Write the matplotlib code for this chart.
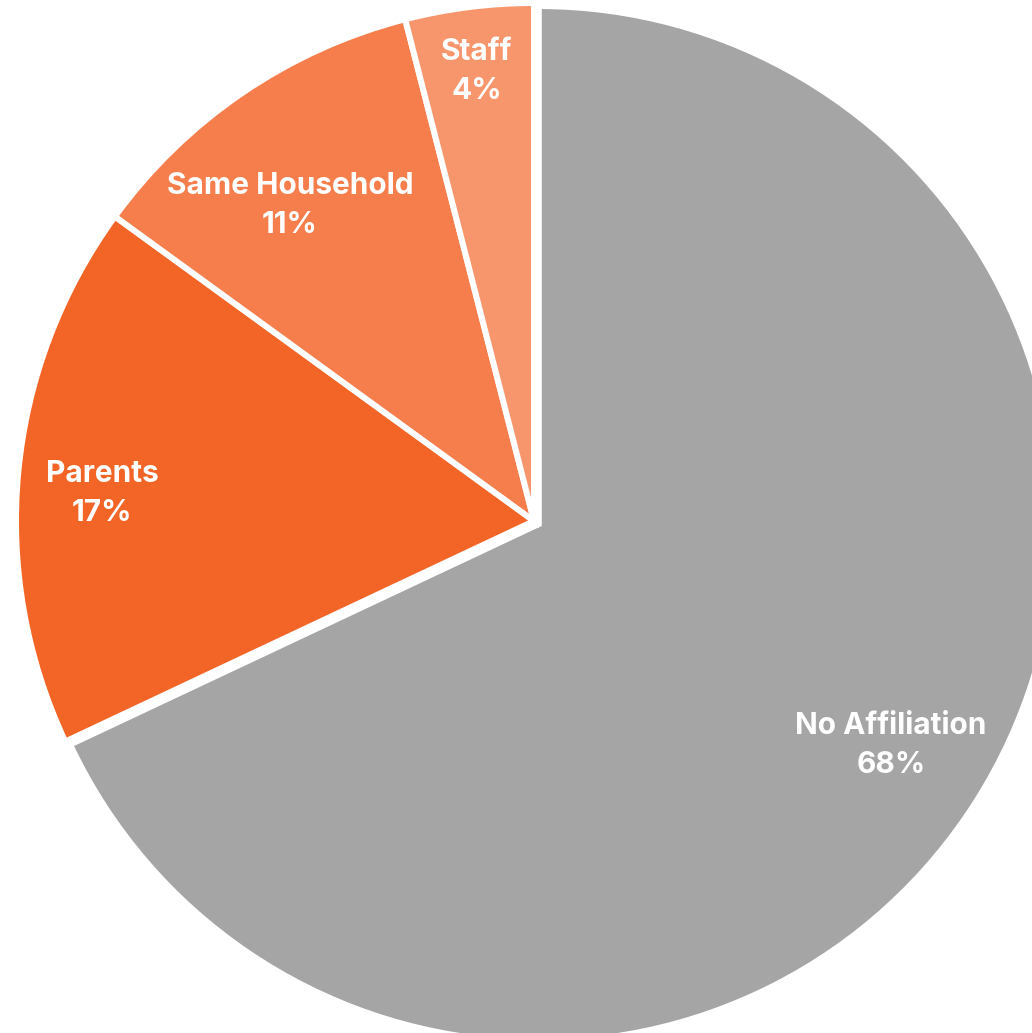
import matplotlib.pyplot as plt
import numpy as np

labels = ["No Affiliation", "Parents", "Same Household", "Staff"]
shares = [68, 17, 11, 4]
colors = ["#A5A5A5", "#F36526", "#F57E4C", "#F7956C"]

# layout bits (pixels / fractions), not data
explode = [0.011, 0, 0, 0]
label_dist = [0.80, 0.836, 0.774, 0.88]
label_nudge = [0.6, 1.3, 3.3, 0.0]   # degrees

W, H = 1032, 1033
R_px = 518.0
cx_px, cy_px = 534.0, 521.0

fig = plt.figure(figsize=(W / 100, H / 100), dpi=100)
ax = fig.add_axes([0, 0, 1, 1])

wedges, _ = ax.pie(shares, colors=colors, startangle=90, counterclock=False,
                   explode=explode,
                   wedgeprops=dict(edgecolor="white", linewidth=4.3))

ax.set_xlim(-cx_px / R_px, (W - cx_px) / R_px)
ax.set_ylim(-(H - cy_px) / R_px, cy_px / R_px)
ax.set_aspect("auto")
ax.axis("off")

dy = -3 / R_px  # text sits a touch lower than the centre
for w, lab, v, d, nd in zip(wedges, labels, shares, label_dist, label_nudge):
    mid = np.deg2rad((w.theta1 + w.theta2) / 2 + nd)
    x0, y0 = w.center
    ax.text(x0 + d * np.cos(mid), y0 + d * np.sin(mid) + dy, f"{lab}\n{v}%",
            ha="center", va="center", color="white", fontsize=21.5,
            fontweight="bold", family="Inter", linespacing=1.5)

fig.savefig("out.png", dpi=100)
